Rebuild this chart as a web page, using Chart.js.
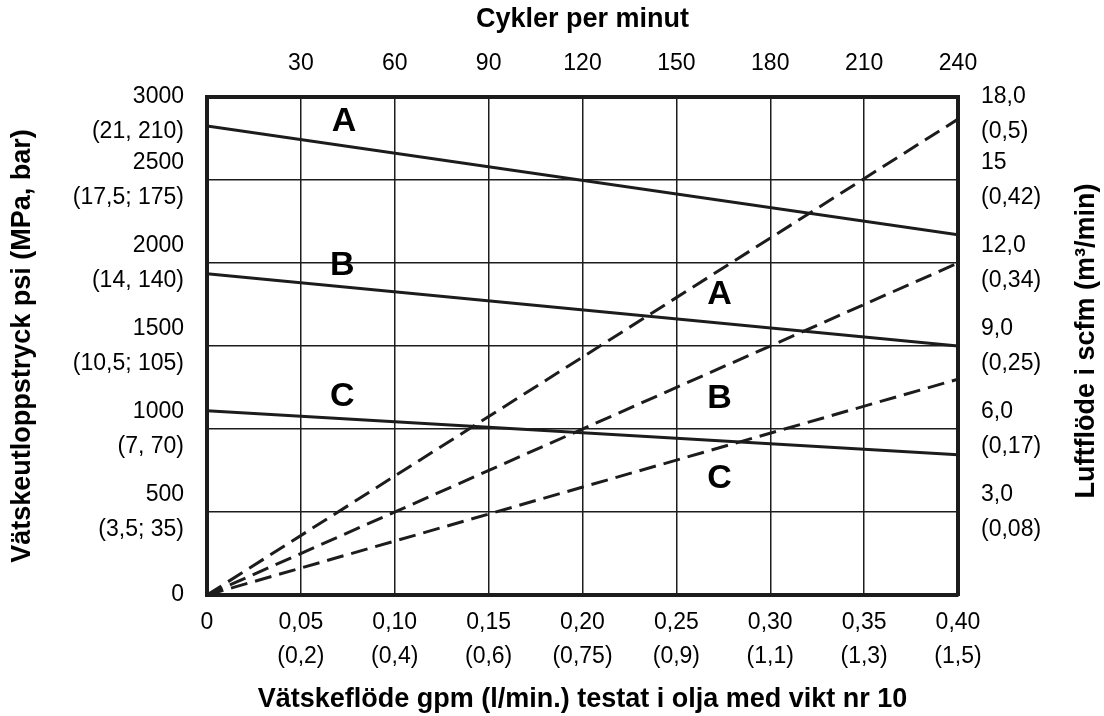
<!DOCTYPE html>
<html>
<head>
<meta charset="utf-8">
<script src="https://cdn.jsdelivr.net/npm/chart.js@4/dist/chart.umd.min.js"></script>
<style>
  body { margin: 0; background: #fff; }
</style>
</head>
<body>
<canvas id="my-chart" width="1104" height="716"></canvas>
<script>
// liquid flow (gpm) at each end of the curves
var flowGpm = [0, 0.40];

// fluid outlet pressure, psi (solid lines)
var pressureA = [2825, 2170];
var pressureB = [1935, 1500];
var pressureC = [1110, 845];

// air consumption, scfm (dashed lines)
var airA = [0, 17.2];
var airB = [0, 12.0];
var airC = [0, 7.8];

// tick labels (top ones get a blank first line so they sit below the corner)
var gpmTicks = ["0", ["0,05", "(0,2)"], ["0,10", "(0,4)"], ["0,15", "(0,6)"], ["0,20", "(0,75)"],
  ["0,25", "(0,9)"], ["0,30", "(1,1)"], ["0,35", "(1,3)"], ["0,40", "(1,5)"]];
var cycleTicks = ["", "30", "60", "90", "120", "150", "180", "210", "240"];
var psiTicks = ["0", ["500", "(3,5; 35)"], ["1000", "(7, 70)"], ["1500", "(10,5; 105)"],
  ["2000", "(14, 140)"], ["2500", "(17,5; 175)"], ["", "3000", "(21, 210)"]];
var scfmTicks = ["", ["3,0", "(0,08)"], ["6,0", "(0,17)"], ["9,0", "(0,25)"],
  ["12,0", "(0,34)"], ["15", "(0,42)"], ["", "18,0", "(0,5)"]];

// curve letters: [letter, gpm, psi]
var curveLetters = [
  ["A", 0.073, 2850], ["B", 0.072, 1985], ["C", 0.072, 1195],
  ["A", 0.273, 1812], ["B", 0.273, 1182], ["C", 0.273, 700],
];

var rightTitle = "Luftflöde i scfm (m³/min)";

var ink = "#1c1c1c";
var family = "'Liberation Sans', Arial, sans-serif";
var tickFont = { family: family, size: 23, lineHeight: 1.5 };
var titleFont = { family: family, size: 27, weight: "bold" };

function points(xs, ys) {
  return xs.map(function (x, i) {
    return { x: x, y: ys[i] };
  });
}

function solid(ys) {
  return {
    data: points(flowGpm, ys),
    borderColor: ink,
    borderWidth: 3,
    pointRadius: 0,
    xAxisID: "x",
    yAxisID: "y",
  };
}

function dashed(ys) {
  return {
    data: points(flowGpm, ys),
    borderColor: ink,
    borderWidth: 3,
    borderDash: [17, 8],
    pointRadius: 0,
    xAxisID: "x",
    yAxisID: "y2",
  };
}

// letters on the curves + right axis title (reads bottom to top)
var letterPlugin = {
  id: "curveLetters",
  afterDatasetsDraw: function (chart) {
    var ctx = chart.ctx;
    var sx = chart.scales.x;
    var sy = chart.scales.y;
    ctx.save();
    ctx.fillStyle = "#000";
    ctx.font = "bold 34px " + family;
    ctx.textAlign = "center";
    ctx.textBaseline = "middle";
    curveLetters.forEach(function (l) {
      ctx.fillText(l[0], sx.getPixelForValue(l[1]), sy.getPixelForValue(l[2]));
    });
    ctx.restore();
  },
  afterDraw: function (chart) {
    var ctx = chart.ctx;
    var area = chart.chartArea;
    ctx.save();
    ctx.translate(chart.width - 17, (area.top + area.bottom) / 2 - 5);
    ctx.rotate(-Math.PI / 2);
    ctx.fillStyle = "#000";
    ctx.font = "bold 27px " + family;
    ctx.textAlign = "center";
    ctx.textBaseline = "middle";
    ctx.fillText(rightTitle, 0, 0);
    ctx.restore();
  },
};

function renderChart() {
  var ctx = document.getElementById("my-chart").getContext("2d");
  var border = { display: true, color: ink, width: 4 };
  var myChart = new Chart(ctx, {
    type: "line",
    data: {
      datasets: [
        solid(pressureA), solid(pressureB), solid(pressureC),
        dashed(airA), dashed(airB), dashed(airC),
      ],
    },
    options: {
      responsive: false,
      animation: false,
      layout: { padding: 0 },
      plugins: { legend: { display: false }, tooltip: { enabled: false } },
      scales: {
        x: {
          type: "linear",
          position: "bottom",
          min: 0,
          max: 0.4,
          afterFit: function (s) { s.height = 121; },
          afterBuildTicks: function (s) {
            s.ticks = gpmTicks.map(function (t, i) { return { value: i * 0.05 }; });
          },
          ticks: {
            color: "#000",
            font: tickFont,
            padding: 10,
            maxRotation: 0,
            autoSkip: false,
            callback: function (v, i) { return gpmTicks[i]; },
          },
          grid: { color: ink, lineWidth: 1.5, drawTicks: false },
          border: border,
          title: {
            display: true,
            text: "Vätskeflöde gpm (l/min.) testat i olja med vikt nr 10",
            color: "#000",
            font: titleFont,
            padding: { top: 0, bottom: 0 },
          },
        },
        x2: {
          type: "linear",
          position: "top",
          min: 0,
          max: 240,
          afterFit: function (s) { s.height = 97; },
          afterBuildTicks: function (s) {
            s.ticks = cycleTicks.map(function (t, i) { return { value: i * 30 }; });
          },
          ticks: {
            color: "#000",
            font: { family: family, size: 23 },
            padding: 12,
            maxRotation: 0,
            autoSkip: false,
            callback: function (v, i) { return cycleTicks[i]; },
          },
          grid: { display: false },
          border: border,
          title: {
            display: true,
            text: "Cykler per minut",
            color: "#000",
            font: titleFont,
            padding: { top: 3, bottom: 0 },
          },
        },
        y: {
          type: "linear",
          position: "left",
          min: 0,
          max: 3000,
          afterFit: function (s) { s.width = 207; },
          afterBuildTicks: function (s) {
            s.ticks = psiTicks.map(function (t, i) { return { value: i * 500 }; });
          },
          ticks: {
            color: "#000",
            font: tickFont,
            padding: 23,
            autoSkip: false,
            callback: function (v, i) { return psiTicks[i]; },
          },
          grid: { color: ink, lineWidth: 1.5, drawTicks: false },
          border: border,
          title: {
            display: true,
            text: "Vätskeutloppstryck psi (MPa, bar)",
            color: "#000",
            font: titleFont,
            padding: { top: 6, bottom: 0 },
          },
        },
        y2: {
          type: "linear",
          position: "right",
          min: 0,
          max: 18,
          afterFit: function (s) { s.width = 146; },
          afterBuildTicks: function (s) {
            s.ticks = scfmTicks.map(function (t, i) { return { value: i * 3 }; });
          },
          ticks: {
            color: "#000",
            font: tickFont,
            padding: 15,
            autoSkip: false,
            callback: function (v, i) { return scfmTicks[i]; },
          },
          grid: { display: false },
          border: border,
        },
      },
    },
    plugins: [letterPlugin],
  });
}

renderChart();
</script>
</body>
</html>
